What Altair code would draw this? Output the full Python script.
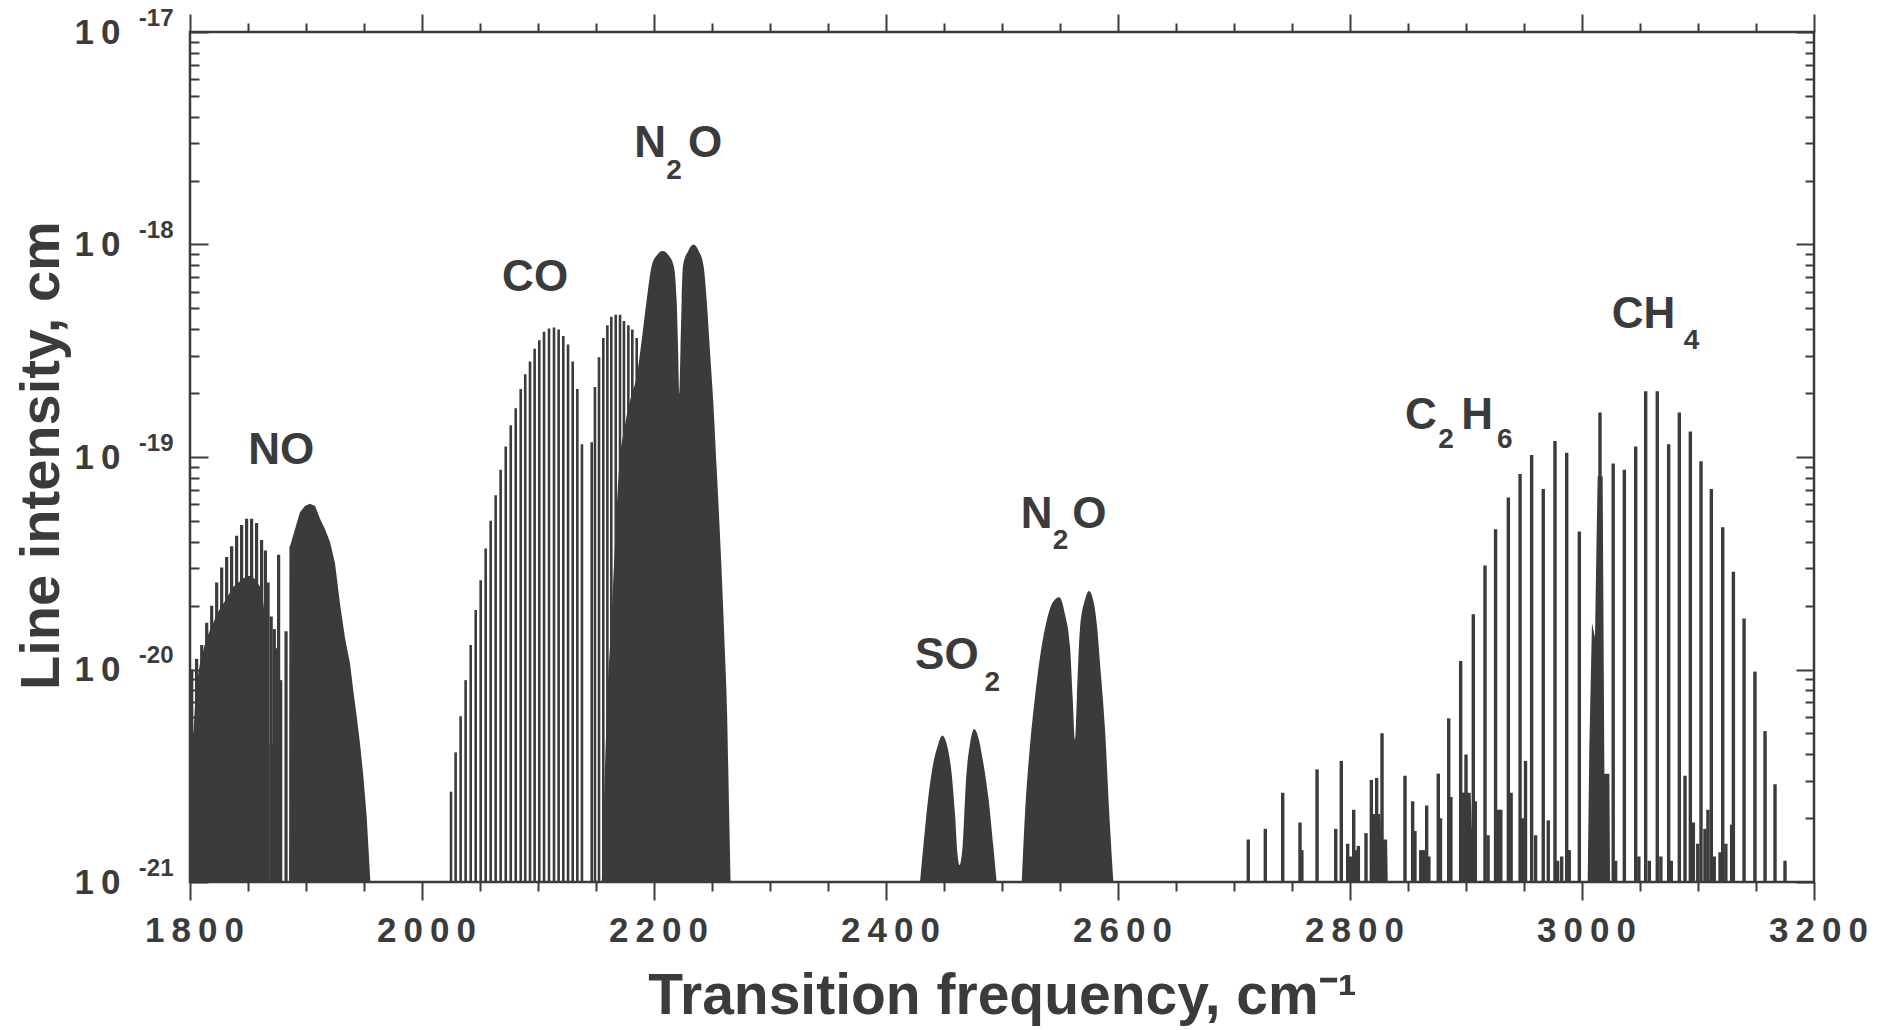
import altair as alt
import pandas as pd

INK = "#3b3b3b"
FONT = "Liberation Sans"
W, H = 1624, 850

# ---------------- axes / ticks ----------------
x_domain = [1800, 3200]
y_domain = [1e-21, 1e-17]
x_major = [1800, 2000, 2200, 2400, 2600, 2800, 3000, 3200]
x_minor = [1850, 1900, 1950, 2050, 2100, 2150, 2250, 2300, 2350, 2450, 2500,
           2550, 2650, 2700, 2750, 2850, 2900, 2950, 3050, 3100, 3150]
y_major = [1e-21, 1e-20, 1e-19, 1e-18, 1e-17]
y_minor = [2e-21, 3e-21, 4e-21, 5e-21, 6e-21, 7e-21, 8e-21, 9e-21,
           2e-20, 3e-20, 4e-20, 5e-20, 6e-20, 7e-20, 8e-20, 9e-20,
           2e-19, 3e-19, 4e-19, 5e-19, 6e-19, 7e-19, 8e-19, 9e-19,
           2e-18, 3e-18, 4e-18, 5e-18, 6e-18, 7e-18, 8e-18, 9e-18]
y_mantissa = "1\u20090"
y_exponents = ["-21", "-20", "-19", "-18", "-17"]

# ---------------- data: (wavenumber cm-1, log10 intensity) ----------------
# NO band: individual lines (comb above the dense part and between the branches)
no_lines = [(1801.5, -20.00), (1805.7, -19.95), (1810.1, -19.885), (1814.4, -19.78),
            (1818.7, -19.70), (1823.0, -19.59), (1827.3, -19.52), (1831.6, -19.47),
            (1835.9, -19.42), (1840.2, -19.37), (1844.5, -19.32), (1848.8, -19.29),
            (1853.1, -19.29), (1857.4, -19.31), (1861.7, -19.39), (1865.0, -19.44),
            (1867.3, -19.59), (1870.0, -19.75), (1872.7, -19.81), (1874.6, -19.90),
            (1876.4, -19.46), (1878.2, -20.05), (1882.8, -19.82), (1887.1, -19.42)]
# NO band: dense (solid) envelopes
no_left_env = [(1800.0, -20.30), (1802.9, -20.30), (1805.0, -20.10), (1808.6, -19.97),
               (1812.9, -19.88), (1816.0, -19.83), (1820.1, -19.78), (1824.0, -19.73),
               (1828.7, -19.69), (1833.0, -19.65), (1837.4, -19.61), (1841.7, -19.59),
               (1846.0, -19.57), (1850.0, -19.56), (1853.2, -19.56), (1857.0, -19.58),
               (1860.3, -19.61), (1863.0, -19.68), (1864.7, -19.75), (1866.0, -20.30),
               (1866.7, -21.0)]
no_mid_env = [(1868.5, -21.0), (1868.5, -20.35), (1877.0, -20.35), (1877.0, -21.0)]
no_right_env = [(1885.5, -21.0), (1886.2, -19.42), (1890.5, -19.34), (1894.8, -19.26),
                (1899.1, -19.23), (1903.4, -19.22), (1907.8, -19.23), (1912.1, -19.29),
                (1916.4, -19.34), (1920.7, -19.40), (1925.0, -19.50), (1929.3, -19.69),
                (1933.6, -19.85), (1937.9, -19.97), (1940.8, -20.10), (1943.7, -20.22),
                (1946.6, -20.35), (1949.4, -20.50), (1952.3, -20.69), (1955.2, -20.97),
                (1955.5, -21.0)]
# CO fundamental band lines
co_lines = [(2025.0, -20.575), (2029.0, -20.39), (2033.3, -20.22), (2037.6, -20.05),
            (2042.0, -19.885), (2046.3, -19.72), (2050.6, -19.58), (2054.9, -19.43),
            (2059.2, -19.30), (2063.5, -19.18), (2067.8, -19.06), (2072.2, -18.95),
            (2076.5, -18.85), (2080.8, -18.77), (2085.1, -18.68), (2089.0, -18.61),
            (2093.1, -18.55), (2097.1, -18.49), (2101.1, -18.45), (2105.2, -18.41),
            (2109.5, -18.395), (2113.8, -18.39), (2117.8, -18.40), (2121.8, -18.43),
            (2125.9, -18.47), (2129.9, -18.55), (2133.9, -18.68), (2137.9, -18.94),
            (2146.3, -18.93), (2149.1, -18.67), (2152.6, -18.53), (2156.3, -18.44),
            (2159.8, -18.38), (2163.2, -18.34), (2167.0, -18.33), (2170.7, -18.33),
            (2174.1, -18.36), (2177.9, -18.38), (2181.3, -18.40), (2185.1, -18.44)]
# N2O 2224 band envelope
n2o_a_env = [(2155.0, -21.0), (2157.0, -20.60), (2160.0, -20.10), (2163.0, -19.80),
             (2166.0, -19.45), (2170.0, -19.05), (2175.0, -18.85), (2180.0, -18.72),
             (2185.1, -18.62), (2189.4, -18.45), (2193.7, -18.26), (2198.0, -18.10),
             (2202.5, -18.05), (2207.5, -18.03), (2212.5, -18.05), (2217.0, -18.10),
             (2219.5, -18.26), (2220.8, -18.50), (2221.8, -18.70), (2222.8, -18.50),
             (2223.9, -18.26), (2225.0, -18.10), (2229.5, -18.03), (2234.0, -18.00),
             (2238.5, -18.03), (2242.7, -18.10), (2245.4, -18.26), (2248.0, -18.48),
             (2251.0, -18.73), (2254.0, -19.05), (2258.0, -19.50), (2261.0, -19.90),
             (2263.0, -20.20), (2264.7, -20.65), (2266.0, -21.0)]
# SO2 band envelope
so2_env = [(2429.3, -21.0), (2432.2, -20.83), (2436.5, -20.60), (2440.8, -20.44),
           (2445.1, -20.35), (2447.0, -20.32), (2448.6, -20.31), (2450.3, -20.32),
           (2452.3, -20.35), (2456.6, -20.49), (2459.5, -20.68), (2461.5, -20.86),
           (2463.3, -20.92), (2466.1, -20.83), (2469.0, -20.52), (2472.4, -20.35),
           (2474.2, -20.30), (2475.9, -20.28), (2477.7, -20.29), (2479.6, -20.32),
           (2483.9, -20.44), (2488.2, -20.60), (2492.5, -20.83), (2495.4, -21.0)]
# N2O 2564 band envelope
n2o_b_env = [(2517.0, -21.0), (2519.8, -20.68), (2524.1, -20.36), (2528.4, -20.13),
             (2532.8, -19.94), (2538.5, -19.77), (2544.2, -19.68), (2549.4, -19.66),
             (2554.3, -19.74), (2558.6, -19.89), (2560.9, -20.13), (2562.9, -20.33),
             (2564.6, -20.13), (2567.2, -19.81), (2571.6, -19.67), (2575.0, -19.63),
             (2578.5, -19.67), (2582.0, -19.80), (2584.5, -19.97), (2588.8, -20.28),
             (2592.5, -20.68), (2596.0, -21.0)]
# dense clusters in the hydrocarbon region (C2H6 / CH4 Q-branches)
cluster_a_env = [(2818.5, -21.0), (2819.0, -20.68), (2826.0, -20.68), (2827.0, -20.80),
                 (2832.0, -20.80), (2832.5, -21.0)]
cluster_b_env = [(2895.0, -21.0), (2895.5, -20.58), (2904.0, -20.58), (2905.0, -20.75),
                 (2908.0, -20.75), (2908.5, -21.0)]
ch4_q_env = [(3004.9, -21.0), (3006.3, -20.37), (3008.6, -19.78), (3011.2, -19.85),
             (3012.4, -19.44), (3013.5, -19.09), (3017.8, -19.09), (3019.3, -20.49),
             (3023.6, -20.49), (3024.2, -21.0)]
# C2H6 / CH4 lines
hc_lines = [(2712.3, -20.80), (2727.0, -20.75), (2742.0, -20.58), (2756.9, -20.72),
            (2758.5, -20.85), (2771.6, -20.47), (2787.7, -20.75), (2792.5, -20.43),
            (2798.0, -20.82), (2800.5, -20.88), (2803.2, -20.66), (2805.5, -20.85),
            (2807.2, -20.83), (2813.8, -20.77), (2818.4, -20.52), (2823.0, -20.51),
            (2827.6, -20.30), (2847.4, -20.50), (2854.0, -20.62), (2856.0, -20.76),
            (2861.0, -20.85), (2863.5, -20.85), (2866.1, -20.64), (2868.0, -20.88),
            (2876.1, -20.49), (2878.0, -20.70), (2885.1, -20.23), (2887.0, -20.60),
            (2895.4, -19.96), (2898.0, -20.58), (2900.0, -20.40), (2902.0, -20.60),
            (2906.3, -19.74), (2908.0, -20.62), (2916.4, -19.51), (2919.0, -20.78),
            (2925.5, -19.34), (2928.0, -20.66), (2930.0, -20.66), (2936.5, -19.19),
            (2938.9, -20.58), (2946.6, -19.08), (2948.7, -20.70), (2951.3, -20.43),
            (2956.6, -18.99), (2960.0, -20.78), (2966.6, -19.15), (2970.9, -20.71),
            (2976.7, -18.925), (2979.0, -20.90), (2982.5, -20.88), (2986.8, -18.98),
            (2989.0, -20.85), (2997.7, -19.35), (3015.5, -18.79), (3026.9, -19.03),
            (3029.0, -20.90), (3036.5, -19.06), (3046.3, -18.95), (3049.0, -20.88),
            (3054.9, -18.69), (3058.0, -20.90), (3064.9, -18.69), (3068.0, -20.88),
            (3074.7, -18.94), (3077.0, -20.90), (3083.9, -18.79), (3088.8, -20.50),
            (3093.4, -18.88), (3096.0, -20.72), (3099.8, -20.82), (3102.6, -19.02),
            (3106.0, -20.75), (3108.6, -20.66), (3111.5, -19.15), (3114.0, -20.88),
            (3119.0, -20.86), (3121.3, -19.33), (3124.0, -20.82), (3129.0, -20.73),
            (3130.5, -19.54), (3139.7, -19.76), (3149.1, -20.01), (3157.8, -20.29),
            (3166.4, -20.54), (3175.0, -20.90)]
# molecule labels: main letters and subscripts, each at (wavenumber, log10 S)
label_main = [("NO", 1878.7, -18.974), ("CO", 2097.5, -18.157),
              ("N", 2196.6, -17.526), ("O", 2244.0, -17.526),
              ("SO", 2452.5, -19.938),
              ("N", 2529.9, -19.273), ("O", 2575.3, -19.273),
              ("C", 2861.2, -18.805), ("H", 2909.7, -18.805),
              ("CH", 3053.1, -18.332)]
label_sub = [("2", 2217.2, -17.656), ("2", 2491.7, -20.062), ("2", 2550.5, -19.397),
             ("2", 2882.8, -18.918), ("6", 2933.4, -18.918), ("4", 3094.4, -18.456)]


def frame(pairs, group="g"):
    return pd.DataFrame({"nu": [p[0] for p in pairs],
                         "S": [10.0 ** p[1] for p in pairs],
                         "band": group})


def label_frame(items):
    return pd.DataFrame({"label": [t[0] for t in items],
                         "nu": [t[1] for t in items],
                         "S": [10.0 ** t[2] for t in items]})


df_no_lines = frame(no_lines)
df_co = frame(co_lines)
df_hc = frame(hc_lines)
df_lin_areas = pd.concat([frame(no_left_env, "no_l"), frame(no_mid_env, "no_m"),
                          frame(no_right_env, "no_r"),
                          frame(cluster_a_env, "ca"), frame(cluster_b_env, "cb"),
                          frame(ch4_q_env, "ch4q")])
df_smooth_areas = pd.concat([frame(n2o_a_env, "n2o_a"), frame(so2_env, "so2"),
                             frame(n2o_b_env, "n2o_b")])
df_label_main = label_frame(label_main)
df_label_sub = label_frame(label_sub)

# ---------------- scales & axes ----------------
xs = alt.Scale(domain=x_domain, nice=False, zero=False)
ys = alt.Scale(type="log", domain=y_domain, nice=False)

tick_common = dict(domain=False, grid=False, tickColor=INK, tickWidth=2,
                   labels=False, title=None)

ax_x_labels = alt.Axis(
    orient="bottom", values=x_major, tickSize=18, tickColor=INK, tickWidth=2,
    domain=False, grid=False, labelFont=FONT, labelFontSize=35,
    labelFontWeight="bold", labelColor=INK, labelPadding=13, labelOffset=4,
    labelFlush=False, labelOverlap=False, format="d",
    labelExpr="join(split(datum.label, ''), '\u2009')",
    title="Transition frequency, cm\u207b\u00b9", titleFont=FONT, titleFontSize=57,
    titleFontWeight="bold", titleColor=INK, titleX=W / 2, titleY=131,
    titleAlign="center", titleBaseline="alphabetic", titleAngle=0)
ax_x_minor = alt.Axis(orient="bottom", values=x_minor, tickSize=9, **tick_common)
ax_x_top_major = alt.Axis(orient="top", values=x_major, tickSize=18, **tick_common)
ax_x_top_minor = alt.Axis(orient="top", values=x_minor, tickSize=9, **tick_common)

ax_y_mant = alt.Axis(
    orient="left", values=y_major, ticks=False, tickSize=0, domain=False, grid=False,
    labelExpr="'" + y_mantissa + "'", labelFont=FONT, labelFontSize=35,
    labelFontWeight="bold", labelColor=INK, labelPadding=70, labelAlign="right",
    labelBaseline="middle", labelOverlap=False, labelFlush=False,
    title="Line intensity, cm", titleFont=FONT, titleFontSize=56,
    titleFontWeight="bold", titleColor=INK, titleX=-132, titleY=H / 2 - 2,
    titleAngle=270, titleAlign="center", titleBaseline="alphabetic")
exp_expr = "[" + ",".join("'" + e + "'" for e in y_exponents) + "][round(log(datum.value)/LN10)+21]"
ax_y_exp = alt.Axis(
    orient="left", values=y_major, ticks=False, tickSize=0, domain=False, grid=False,
    labelExpr=exp_expr, labelFont=FONT, labelFontSize=24, labelFontWeight="bold",
    labelColor=INK, labelPadding=17, labelOffset=-14, labelAlign="right",
    labelBaseline="middle", labelOverlap=False, labelFlush=False, title=None)
ax_y_inL_major = alt.Axis(orient="right", offset=-W, values=y_major, tickSize=18, **tick_common)
ax_y_inL_minor = alt.Axis(orient="right", offset=-W, values=y_minor, tickSize=9, **tick_common)
ax_y_inR_major = alt.Axis(orient="left", offset=-W, values=y_major, tickSize=18, **tick_common)
ax_y_inR_minor = alt.Axis(orient="left", offset=-W, values=y_minor, tickSize=9, **tick_common)


def X(axis):
    return alt.X("nu:Q", scale=xs, axis=axis)


def Y(axis):
    return alt.Y("S:Q", scale=ys, axis=axis)


base_y2 = alt.datum(1e-21)

lin_areas = alt.Chart(df_lin_areas).mark_area(
    color=INK, interpolate="linear", clip=True).encode(
    x=X(ax_x_labels), y=Y(ax_y_mant), y2=base_y2, detail="band:N")

smooth_areas = alt.Chart(df_smooth_areas).mark_area(
    color=INK, interpolate="monotone", clip=True).encode(
    x=X(ax_x_minor), y=Y(ax_y_exp), y2=base_y2, detail="band:N")

no_rules = alt.Chart(df_no_lines).mark_rule(
    color=INK, strokeWidth=3.2, clip=True).encode(
    x=X(ax_x_top_major), y=Y(ax_y_inL_major), y2=base_y2)

co_rules = alt.Chart(df_co).mark_rule(
    color=INK, strokeWidth=2.6, clip=True).encode(
    x=X(ax_x_top_minor), y=Y(ax_y_inL_minor), y2=base_y2)

hc_rules = alt.Chart(df_hc).mark_rule(
    color=INK, strokeWidth=3.4, clip=True).encode(
    x=X(None), y=Y(ax_y_inR_major), y2=base_y2)

labels_main = alt.Chart(df_label_main).mark_text(
    font=FONT, fontSize=44, fontWeight="bold", color=INK,
    align="center", baseline="middle").encode(
    x=X(None), y=Y(ax_y_inR_minor), text="label:N")

labels_sub = alt.Chart(df_label_sub).mark_text(
    font=FONT, fontSize=28, fontWeight="bold", color=INK,
    align="center", baseline="middle").encode(
    x=X(None), y=Y(None), text="label:N")

chart = alt.layer(
    co_rules, no_rules, hc_rules, lin_areas, smooth_areas, labels_main, labels_sub
).resolve_axis(
    x="independent", y="independent"
).properties(
    width=W, height=H,
    autosize=alt.AutoSizeParams(type="none"),
    padding={"left": 190, "top": 32, "right": 63, "bottom": 148},
    background="white",
).configure_view(
    stroke=INK, strokeWidth=2.5
)

chart.save("out.html", embed_options={"renderer": "svg", "actions": False})
